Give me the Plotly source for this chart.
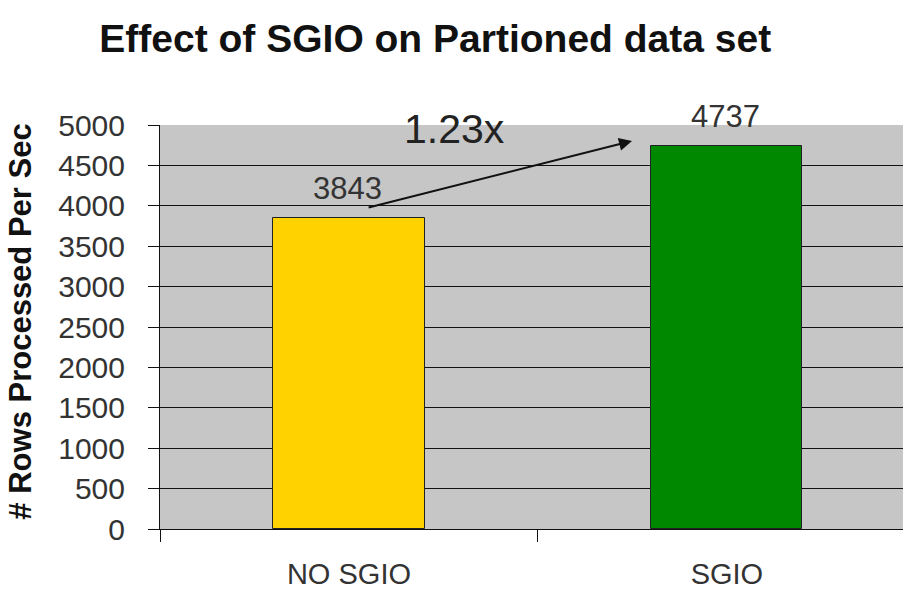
import plotly.graph_objects as go

categories = ["NO SGIO", "SGIO"]
values = [3843, 4737]
bar_colors = ["#FFD200", "#008800"]
y_ticks = [0, 500, 1000, 1500, 2000, 2500, 3000, 3500, 4000, 4500, 5000]
speedup_label = "1.23x"

fig = go.Figure()
fig.add_trace(go.Bar(
    x=categories, y=values,
    marker=dict(color=bar_colors, line=dict(color="#222222", width=1)),
    width=0.40,
    hoverinfo="skip",
))

for i, v in enumerate(values):
    fig.add_annotation(x=i - 0.005, y=v, text=str(v), showarrow=False,
                       yanchor="bottom", yshift=10,
                       font=dict(family="Liberation Sans, Arial", size=31, color="#333333"))

# arrow from NO SGIO label to SGIO bar
fig.add_annotation(x=0.749, y=4802, ax=0.048, ay=3975, axref="x", ayref="y",
                   xref="x", yref="y", text="", showarrow=True,
                   arrowhead=2, arrowsize=1.3, arrowwidth=2, arrowcolor="#111111")
fig.add_annotation(x=0.278, y=0.991, xref="x", yref="paper", text=speedup_label,
                   showarrow=False, yanchor="middle",
                   font=dict(family="Liberation Sans, Arial", size=41, color="#222222"))

fig.add_annotation(xref="paper", yref="paper", x=-0.188, y=0.514,
                   text="<b># Rows Processed Per Sec</b>", textangle=-90,
                   showarrow=False, xanchor="center", yanchor="middle",
                   font=dict(family="Liberation Sans, Arial", size=31, color="#111111"))

fig.update_layout(
    width=903, height=591,
    margin=dict(l=160, r=0, t=124.5, b=62),
    paper_bgcolor="white",
    plot_bgcolor="#C6C6C6",
    showlegend=False,
    bargap=0,
    title=dict(text="<b>Effect of SGIO on Partioned data set</b>",
               xref="container", yref="container", x=0.482, y=1 - 38 / 591,
               xanchor="center", yanchor="middle",
               font=dict(family="Liberation Sans, Arial", size=39, color="#111111")),
    xaxis=dict(
        type="category", categoryorder="array", categoryarray=categories,
        range=[-0.5, 1.466], tickson="boundaries", automargin=False,
        ticks="outside", ticklen=12, tickcolor="#111111", tickwidth=1,
        showline=True, linecolor="#111111", linewidth=1,
        showgrid=False, zeroline=False, fixedrange=True,
        tickfont=dict(family="Liberation Sans, Arial", size=29, color="#333333"),
        ticklabelstandoff=19,
    ),
    yaxis=dict(
        range=[0, 5000], tickvals=y_ticks, automargin=False,
        ticks="outside", ticklen=11, tickcolor="#111111", tickwidth=1,
        showline=True, linecolor="#111111", linewidth=1,
        showgrid=True, gridcolor="#111111", gridwidth=1,
        zeroline=False,
        tickfont=dict(family="Liberation Sans, Arial", size=30, color="#333333"),
        ticklabelstandoff=17,
    ),
)

fig.write_html("out.html")
